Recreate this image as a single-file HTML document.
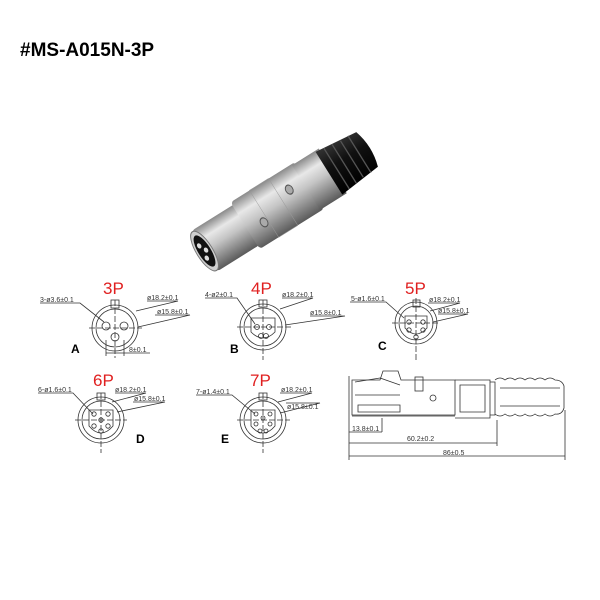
<!DOCTYPE html>
<html><head><meta charset="utf-8"><style>
body{margin:0;background:#fff;}
svg{display:block}
.t{font-family:"Liberation Sans",sans-serif;}
</style></head><body>
<svg width="600" height="600" viewBox="0 0 600 600" xmlns="http://www.w3.org/2000/svg">
<text x="20" y="56" class="t" font-size="19" font-weight="bold" fill="#000">#MS-A015N-3P</text>

<defs>
<linearGradient id="met" x1="0" y1="0" x2="0" y2="1">
<stop offset="0" stop-color="#8a8a8a"/><stop offset="0.25" stop-color="#e8e8e8"/><stop offset="0.5" stop-color="#c4c4c4"/><stop offset="0.85" stop-color="#7a7a7a"/><stop offset="1" stop-color="#5a5a5a"/>
</linearGradient>
<linearGradient id="blk" x1="0" y1="0" x2="0" y2="1">
<stop offset="0" stop-color="#333"/><stop offset="0.4" stop-color="#111"/><stop offset="1" stop-color="#000"/>
</linearGradient>
</defs>
<g transform="translate(203,252) rotate(-32) scale(0.9,1.2)">
 <rect x="0" y="-20" width="60" height="40" rx="6" fill="url(#met)"/>
 <rect x="55" y="-23" width="85" height="46" rx="4" fill="url(#met)"/>
 <rect x="80" y="-23" width="25" height="46" fill="url(#met)" stroke="#999" stroke-width="0.5"/>
 <rect x="135" y="-22" width="35" height="44" fill="url(#met)"/>
 <path d="M165,-21 L215,-17 Q222,0 215,17 L165,21 Z" fill="url(#blk)"/>
 <g stroke="#555" stroke-width="1.5">
  <line x1="175" y1="-20" x2="175" y2="20"/><line x1="185" y1="-19" x2="185" y2="19"/><line x1="195" y1="-18" x2="195" y2="18"/><line x1="205" y1="-18" x2="205" y2="18"/>
 </g>
 <circle cx="118" cy="-6" r="4" fill="#aaa" stroke="#555"/>
 <circle cx="75" cy="6" r="4" fill="#aaa" stroke="#555"/>
 <ellipse cx="2" cy="0" rx="9" ry="19" fill="#cfcfcf" stroke="#777"/>
 <ellipse cx="2" cy="0" rx="7" ry="15" fill="#111"/>
 <circle cx="0" cy="-6" r="2.3" fill="#ddd"/><circle cx="0" cy="6" r="2.3" fill="#ddd"/><circle cx="4" cy="0" r="2.3" fill="#ddd"/>
</g>

<g class="t" fill="#e02020" font-size="17">
<text x="103" y="294">3P</text><text x="251" y="294">4P</text><text x="405" y="294">5P</text>
<text x="93" y="386">6P</text><text x="250" y="386">7P</text>
</g>
<g class="t" font-size="12" font-weight="bold" fill="#000">
<text x="71" y="353">A</text><text x="230" y="353">B</text><text x="378" y="350">C</text>
<text x="136" y="443">D</text><text x="221" y="443">E</text>
</g>

<g fill="none" stroke="#333" stroke-width="0.8">
<circle cx="115" cy="328" r="23"/><circle cx="115" cy="328" r="19"/><rect x="111" y="300" width="8" height="8"/>
<line x1="89" y1="328" x2="142" y2="328" stroke-dasharray="6 2"/><line x1="115" y1="300" x2="115" y2="358" stroke-dasharray="6 2"/>
<circle cx="106" cy="326" r="4"/><circle cx="124" cy="326" r="4"/><circle cx="115" cy="337" r="4"/>
<path d="M40,303 H80 L104,322 M147,301 H178 L136,311 M155,315 H190 L138,327 M106,340 V356 M124,340 V356 M106,353 H150"/>
<circle cx="263" cy="327" r="23"/><circle cx="263" cy="327" r="19"/><rect x="259" y="300" width="8" height="7"/>
<line x1="237" y1="327" x2="293" y2="327" stroke-dasharray="6 2"/><line x1="263" y1="300" x2="263" y2="360" stroke-dasharray="6 2"/>
<path d="M251,318 H275 V332 Q263,344 251,332 Z"/>
<circle cx="257" cy="327" r="2.5"/><circle cx="269" cy="327" r="2.5"/><circle cx="261" cy="336" r="2.5"/><circle cx="266" cy="336" r="2.5"/>
<path d="M205,298 H237 L255,324 M282,298 H313 L280,309 M310,316 H345 L285,325"/>
<circle cx="416" cy="323" r="21"/><circle cx="416" cy="323" r="17"/><rect x="413" y="300" width="7" height="7"/>
<line x1="392" y1="323" x2="440" y2="323" stroke-dasharray="6 2"/><line x1="416" y1="298" x2="416" y2="362" stroke-dasharray="6 2"/>
<path d="M405,316 H427 V328 Q416,340 405,328 Z"/>
<circle cx="409" cy="322" r="2.2"/><circle cx="423" cy="322" r="2.2"/><circle cx="409" cy="330" r="2.2"/><circle cx="423" cy="330" r="2.2"/><circle cx="416" cy="337" r="2.2"/>
<path d="M350,302 H386 L404,318 M428,303 H460 L430,311 M438,314 H468 L433,322"/>
<circle cx="101" cy="420" r="23"/><circle cx="101" cy="420" r="19"/><rect x="97" y="393" width="8" height="7"/>
<line x1="75" y1="420" x2="127" y2="420" stroke-dasharray="6 2"/><line x1="101" y1="393" x2="101" y2="453" stroke-dasharray="6 2"/>
<path d="M89,410 H113 V426 Q101,440 89,426 Z"/>
<circle cx="94" cy="414" r="2.2"/><circle cx="108" cy="414" r="2.2"/><circle cx="101" cy="420" r="2.2"/><circle cx="94" cy="426" r="2.2"/><circle cx="108" cy="426" r="2.2"/><circle cx="101" cy="431" r="2.2"/>
<path d="M38,393 H73 L93,414 M115,393 H146 L112,402 M133,402 H165 L117,412"/>
<circle cx="263" cy="420" r="23"/><circle cx="263" cy="420" r="19"/><rect x="259" y="393" width="8" height="7"/>
<line x1="237" y1="420" x2="290" y2="420" stroke-dasharray="6 2"/><line x1="263" y1="393" x2="263" y2="453" stroke-dasharray="6 2"/>
<path d="M251,410 H275 V426 Q263,440 251,426 Z"/>
<circle cx="256" cy="414" r="2"/><circle cx="270" cy="414" r="2"/><circle cx="263" cy="418" r="2"/><circle cx="256" cy="424" r="2"/><circle cx="270" cy="424" r="2"/><circle cx="260" cy="431" r="2"/><circle cx="266" cy="431" r="2"/>
<path d="M196,395 H232 L255,414 M280,393 H312 L278,402 M286,403 H320 L280,413"/>
</g>

<g class="t" font-size="7" fill="#333">
<text x="40" y="302">3-ø3.6±0.1</text><text x="147" y="300">ø18.2±0.1</text><text x="157" y="314">ø15.8±0.1</text><text x="129" y="352">8±0.1</text>
<text x="205" y="297">4-ø2±0.1</text><text x="282" y="297">ø18.2±0.1</text><text x="310" y="315">ø15.8±0.1</text>
<text x="351" y="301">5-ø1.6±0.1</text><text x="429" y="302">ø18.2±0.1</text><text x="438" y="313">ø15.8±0.1</text>
<text x="38" y="392">6-ø1.6±0.1</text><text x="115" y="392">ø18.2±0.1</text><text x="134" y="401">ø15.8±0.1</text>
<text x="196" y="394">7-ø1.4±0.1</text><text x="281" y="392">ø18.2±0.1</text><text x="287" y="409">ø15.8±0.1</text>
<text x="352" y="431">13.8±0.1</text><text x="407" y="441">60.2±0.2</text><text x="443" y="455">86±0.5</text>
</g>

<g fill="none" stroke="#333" stroke-width="0.8">
<path d="M352,380 H380 L383,371 H398 L401,380 H455 V415 H352 Z"/>
<path d="M355,382 L380,378 L400,385 M355,395 H400 M358,405 H400 V412 H358 Z M352,416 H455"/>
<rect x="415" y="377" width="8" height="14"/><circle cx="433" cy="398" r="3"/>
<path d="M455,380 H490 V418 H455"/>
<path d="M460,385 H485 V412 H460 Z"/>
<path d="M490,382 H495 V415 H490"/>
<path d="M495,380 Q500,376 505,380 Q510,376 515,380 Q520,376 525,380 Q530,376 535,380 Q540,376 545,380 Q550,376 555,380 Q562,380 564,386 V408 Q562,415 555,414 Q550,418 545,414 Q540,418 535,414 Q530,418 525,414 Q520,418 515,414 Q510,418 505,414 Q500,418 495,414"/>
<path d="M500,388 H560 M500,406 H560"/>
<path d="M349,376 V460 M497,420 V446 M565,410 V460 M382,418 V432 M349,432 H382 M349,443 H497 M349,456 H565"/>
</g>
</svg>
</body></html>
